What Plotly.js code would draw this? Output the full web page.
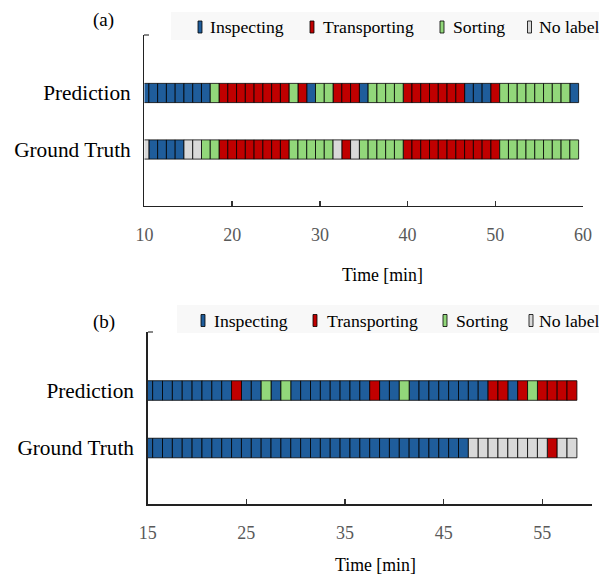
<!DOCTYPE html>
<html>
<head>
<meta charset="utf-8">
<script src="https://cdn.plot.ly/plotly-3.0.1.min.js"></script>
<style>html,body{margin:0;padding:0;background:#fff;}#chart{width:599px;height:579px;}</style>
</head>
<body>
<div id="chart"></div>
<script>
// Activity classes (legend order)
const classCodes = ['I', 'T', 'S', 'N'];
const classNames = ['Inspecting', 'Transporting', 'Sorting', 'No label'];
const classColors = ['#1F5D9B', '#C00000', '#92D77A', '#D9D9D9'];

// Row labels
const rowLabels = ['Prediction', 'Ground Truth'];

// Panel (a): one label per minute, starting at minute 10
const startA = 10;
const predA = ['I','I','I','I','I','I','I','I','S','T','T','T','T','T','T','T','T','S','T','I','S','S','T','T','T','I','S','S','S','S','T','T','T','T','T','T','T','I','I','I','T','S','S','S','S','S','S','S','S','I'];
const gtA   = ['N','I','I','I','I','N','N','S','S','T','T','T','T','T','T','T','T','S','S','S','S','S','N','T','N','S','S','S','S','S','T','T','T','T','T','T','T','T','T','T','T','S','S','S','S','S','S','S','S','S'];

// Panel (b): one label per minute, starting at minute 15
const startB = 15;
const predB = ['I','I','I','I','I','I','I','I','I','T','I','I','S','I','S','I','I','I','I','I','I','I','I','T','I','I','S','I','I','I','I','I','I','I','I','T','T','I','T','S','T','T','T','T'];
const gtB   = ['I','I','I','I','I','I','I','I','I','I','I','I','I','I','I','I','I','I','I','I','I','I','I','I','I','I','I','I','I','I','I','I','I','N','N','N','N','N','N','N','N','T','N','N'];

// Axis ticks
const ticksA = [10, 20, 30, 40, 50, 60];
const ticksB = [15, 25, 35, 45, 55];

const FONT = 'Liberation Serif';
const W = 599, H = 579;
const px = v => v / W;           // pixel -> paper x
const py = v => 1 - v / H;       // pixel -> paper y

function buildTraces(pred, gt, start, xa, ya) {
  const rows = [{seq: pred, y: 1}, {seq: gt, y: 0}];
  return classCodes.map((code, ci) => {
    const x = [], base = [], y = [];
    rows.forEach(r => {
      r.seq.forEach((c, i) => {
        if (c === code) { x.push(1); base.push(start + i - 0.5); y.push(r.y); }
      });
    });
    return {
      type: 'bar', orientation: 'h', x: x, base: base, y: y,
      width: 0.34, name: classNames[ci], showlegend: false,
      xaxis: xa, yaxis: ya,
      marker: {color: classColors[ci], line: {color: 'rgba(0,0,0,0.8)', width: 1}},
      hoverinfo: 'skip'
    };
  });
}

const data = [].concat(
  buildTraces(predA, gtA, startA, 'x', 'y'),
  buildTraces(predB, gtB, startB, 'x2', 'y2')
);

function xAxis(domain, range, ticks, anchor) {
  return {
    domain: domain, range: range, anchor: anchor, automargin: false,
    tickmode: 'array', tickvals: ticks,
    ticks: 'inside', ticklen: 5, tickwidth: 1.5, tickcolor: '#333',
    showline: true, linecolor: '#222', linewidth: 1.5,
    showgrid: false, zeroline: false, fixedrange: true,
    tickfont: {family: FONT, size: 18, color: '#595959'},
    ticklabelstandoff: 12
  };
}
function yAxis(domain, range, anchor) {
  return {
    domain: domain, range: range, anchor: anchor, automargin: false,
    tickmode: 'array', tickvals: [1, 0], ticktext: rowLabels,
    ticks: '', showline: true, linecolor: '#222', linewidth: 1.5,
    showgrid: false, zeroline: false, fixedrange: true,
    tickfont: {family: FONT, size: 21.3, color: '#000'},
    ticklabelstandoff: 8,
    minor: {tickvals: [range[1]], ticks: 'inside', ticklen: 5, tickwidth: 2, tickcolor: '#888'}
  };
}

// Hand-laid legend (layout only): icon centres and text starts in pixels
const legendLayouts = [
  {bg: [171, 12, 599, 40], yc: 27, icons: [200, 312, 442, 529.5], texts: [209, 322, 452, 538]},
  {bg: [177, 305, 599, 333], yc: 320.5, icons: [203, 315, 445, 531], texts: [213, 326, 455, 538]}
];
const shapes = [], annotations = [];
legendLayouts.forEach(L => {
  shapes.push({type: 'rect', xref: 'paper', yref: 'paper', layer: 'below',
    x0: px(L.bg[0]), x1: px(L.bg[2]), y0: py(L.bg[3]), y1: py(L.bg[1]),
    fillcolor: '#f8f8f8', line: {width: 0}});
  classNames.forEach((name, i) => {
    shapes.push({type: 'rect', xref: 'paper', yref: 'paper',
      x0: px(L.icons[i] - 2), x1: px(L.icons[i] + 2), y0: py(L.yc + 6), y1: py(L.yc - 6),
      fillcolor: classColors[i], line: {color: 'rgba(0,0,0,0.8)', width: 1}});
    annotations.push({text: name, xref: 'paper', yref: 'paper', x: px(L.texts[i]), y: py(L.yc),
      xanchor: 'left', yanchor: 'middle', borderpad: 0, showarrow: false,
      font: {family: FONT, size: 17.7, color: '#000'}});
  });
});

annotations.push(
  {text: '(a)', xref: 'paper', yref: 'paper', x: px(103), y: py(20), xanchor: 'center', yanchor: 'middle', showarrow: false, font: {family: FONT, size: 19, color: '#000'}},
  {text: '(b)', xref: 'paper', yref: 'paper', x: px(104), y: py(322), xanchor: 'center', yanchor: 'middle', showarrow: false, font: {family: FONT, size: 19, color: '#000'}},
  {text: 'Time [min]', xref: 'paper', yref: 'paper', x: px(382), y: py(275), xanchor: 'center', yanchor: 'middle', showarrow: false, font: {family: FONT, size: 17.8, color: '#000'}},
  {text: 'Time [min]', xref: 'paper', yref: 'paper', x: px(375), y: py(565), xanchor: 'center', yanchor: 'middle', showarrow: false, font: {family: FONT, size: 17.8, color: '#000'}}
);

const layout = {
  width: W, height: H,
  margin: {l: 0, r: 0, t: 0, b: 0, autoexpand: false},
  paper_bgcolor: '#fff', plot_bgcolor: 'rgba(0,0,0,0)',
  barmode: 'overlay', showlegend: false,
  font: {family: FONT},
  xaxis: xAxis([0.2412, 0.9733], [10, 60], ticksA, 'y'),
  yaxis: yAxis([0.6447, 0.9404], [-0.995, 2.035], 'x'),
  xaxis2: xAxis([0.2466, 0.9878], [15, 60], ticksB, 'y2'),
  yaxis2: yAxis([0.1295, 0.4271], [-0.974, 2.023], 'x2'),
  shapes: shapes,
  annotations: annotations
};

Plotly.newPlot('chart', data, layout, {staticPlot: true, displayModeBar: false});
</script>
</body>
</html>
